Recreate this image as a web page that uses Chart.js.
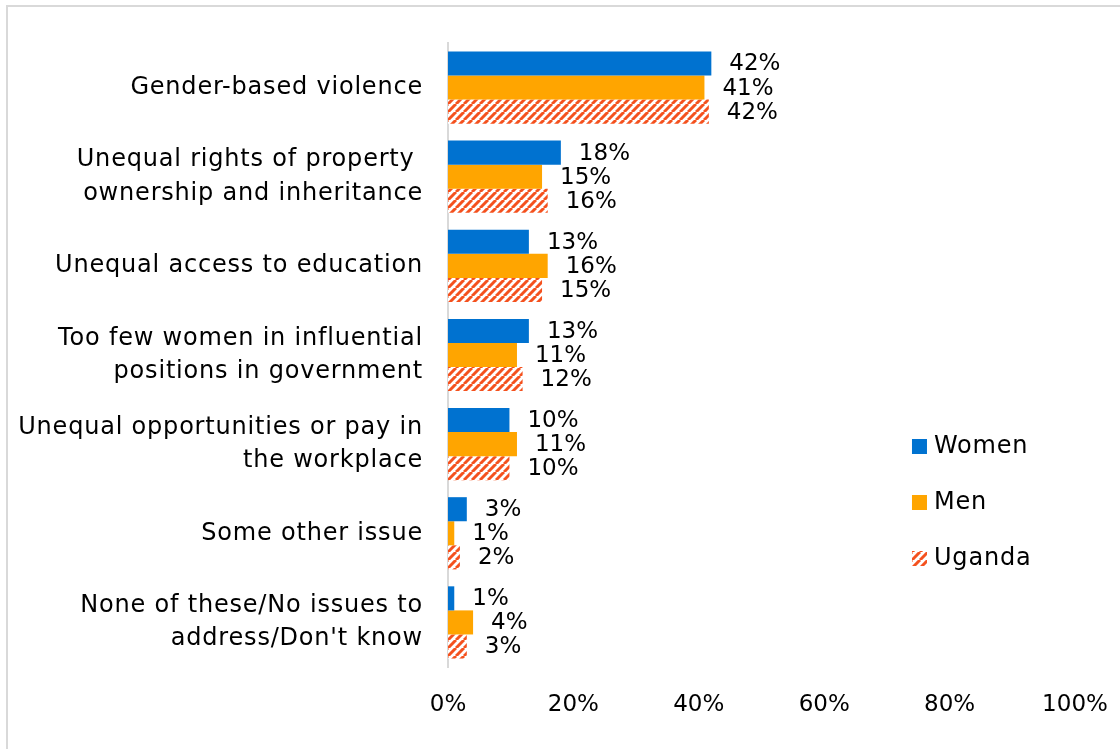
<!DOCTYPE html>
<html>
<head>
<meta charset="utf-8">
<script src="https://cdn.jsdelivr.net/npm/chart.js@4.4.1/dist/chart.umd.min.js"></script>
<style>
  body { margin: 0; background: #fff; }
  #frame { position: absolute; left: 6px; top: 5px; width: 1200px; height: 800px; border: 2px solid #d9d9d9; }
  #wrap { position: absolute; left: 0; top: 0; width: 1120px; height: 749px; }
</style>
</head>
<body>
<div id="frame"></div>
<div id="wrap"><canvas id="chart"></canvas></div>
<script>
const categories = [
    'Gender-based violence',
    ['Unequal rights of property ', 'ownership and inheritance'],
    'Unequal access to education',
    ['Too few women in influential', 'positions in government'],
    ['Unequal opportunities or pay in', 'the workplace'],
    'Some other issue',
    ['None of these/No issues to', "address/Don't know"]
];
const women  = [42.0, 18.0, 12.9, 12.9, 9.8, 3.0, 1.0];
const men    = [40.9, 15.0, 15.9, 11.0, 11.0, 1.0, 4.0];
const uganda = [41.6, 15.9, 15.0, 11.9, 9.8, 1.9, 3.0];
const xTicks = [0, 20, 40, 60, 80, 100];

const FONT = 'DejaVu Sans';
const TEXT_SIZE = 24;   // category labels and legend
const NUM_SIZE = 23;    // percentages
const SPACING = '0.8px';

// striped fill used for the Uganda series
function stripes(color) {
    const c = document.createElement('canvas');
    c.width = 8; c.height = 8;
    const g = c.getContext('2d');
    g.fillStyle = '#fff';
    g.fillRect(0, 0, 8, 8);
    g.strokeStyle = color;
    g.lineWidth = 3;
    for (let x0 = -8; x0 <= 8; x0 += 8) {
        g.beginPath();
        g.moveTo(x0, 8);
        g.lineTo(x0 + 8, 0);
        g.stroke();
    }
    return g.createPattern(c, 'repeat');
}

const ugandaFill = stripes('#f4511e');

// wider letters for the category labels (drawn before the datasets)
const spacing = {
    id: 'spacing',
    beforeDraw(chart) { chart.ctx.letterSpacing = SPACING; },
    beforeDatasetsDraw(chart) { chart.ctx.letterSpacing = '0px'; }
};

const barLabels = {
    id: 'barLabels',
    afterDatasetsDraw(chart) {
        const ctx = chart.ctx;
        ctx.save();
        ctx.letterSpacing = '0px';
        ctx.font = NUM_SIZE + 'px "' + FONT + '"';
        ctx.fillStyle = '#000';
        ctx.textAlign = 'left';
        ctx.textBaseline = 'middle';
        chart.data.datasets.forEach((ds, i) => {
            chart.getDatasetMeta(i).data.forEach((bar, j) => {
                ctx.fillText(Math.round(ds.data[j]) + '%', bar.x + 18, bar.y + 1);
            });
        });
        ctx.restore();
    }
};

const sideLegend = {
    id: 'sideLegend',
    afterDraw(chart) {
        const ctx = chart.ctx;
        const x = chart.scales.x.getPixelForValue(74);
        const y0 = chart.chartArea.top + 403;
        ctx.save();
        ctx.letterSpacing = SPACING;
        ctx.font = TEXT_SIZE + 'px "' + FONT + '"';
        ctx.textBaseline = 'middle';
        chart.data.datasets.forEach((ds, i) => {
            const y = y0 + i * 56;
            ctx.fillStyle = ds.backgroundColor;
            ctx.fillRect(x, y - 7, 15, 15);
            ctx.fillStyle = '#000';
            ctx.fillText(ds.label, x + 22, y + 1);
        });
        ctx.restore();
    }
};

new Chart(document.getElementById('chart'), {
    type: 'bar',
    data: {
        labels: categories,
        datasets: [
            { label: 'Women', data: women, backgroundColor: '#0072d0' },
            { label: 'Men', data: men, backgroundColor: '#ffa500' },
            { label: 'Uganda', data: uganda, backgroundColor: ugandaFill }
        ]
    },
    options: {
        indexAxis: 'y',
        responsive: true,
        maintainAspectRatio: false,
        animation: false,
        categoryPercentage: 0.81,
        barPercentage: 1.0,
        layout: { padding: { left: 0, top: 43, right: 45, bottom: 0 } },
        plugins: {
            legend: { display: false },
            tooltip: { enabled: false }
        },
        scales: {
            x: {
                min: 0,
                max: 100,
                afterBuildTicks: (scale) => { scale.ticks = xTicks.map(v => ({ value: v })); },
                afterFit: (scale) => {
                    scale.height = 82;
                    scale.paddingLeft = 0;
                    scale.paddingRight = 0;
                },
                grid: { display: false, drawTicks: false },
                border: { display: false },
                ticks: {
                    z: 1,
                    padding: 24,
                    color: '#000',
                    font: { family: FONT, size: NUM_SIZE },
                    callback: (v) => v + '%'
                }
            },
            y: {
                afterFit: (scale) => {
                    scale.width = 448;
                    scale.paddingTop = 0;
                    scale.paddingBottom = 0;
                },
                grid: { display: false, drawTicks: false },
                border: { display: true, color: '#d9d9d9', width: 2 },
                ticks: {
                    padding: 25,
                    color: '#000',
                    font: { family: FONT, size: TEXT_SIZE, lineHeight: 1.38 }
                }
            }
        }
    },
    plugins: [spacing, barLabels, sideLegend]
});
</script>
</body>
</html>
